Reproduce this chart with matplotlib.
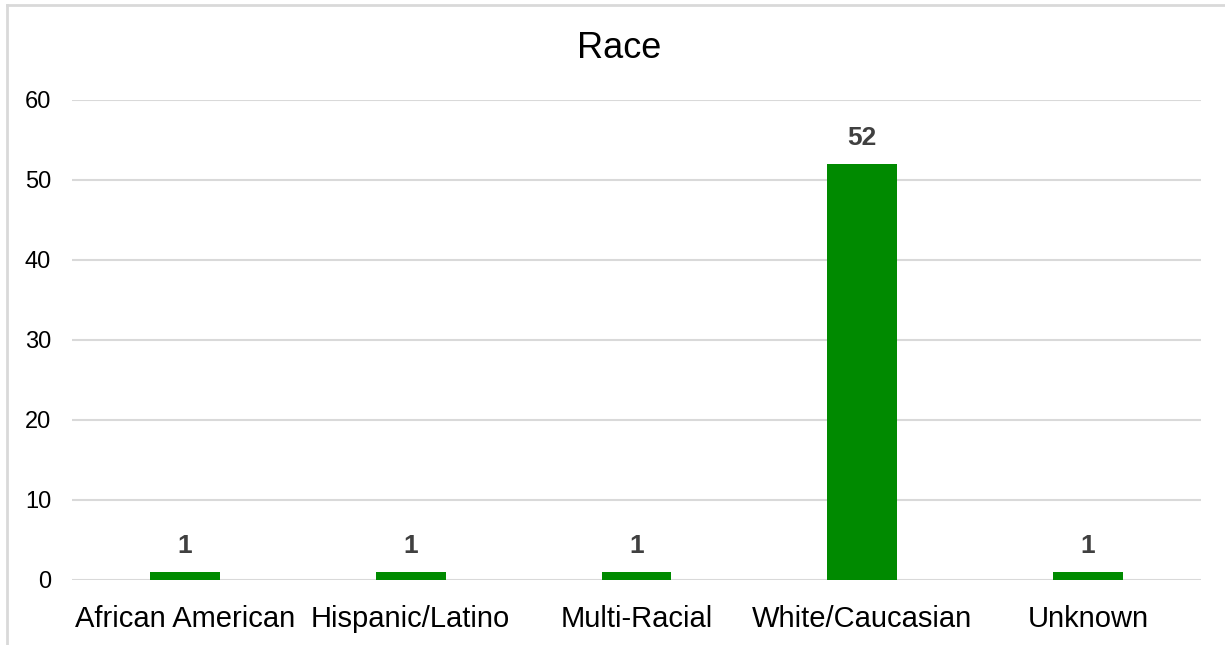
import matplotlib.pyplot as plt
from matplotlib.lines import Line2D

categories = ['African American', 'Hispanic/Latino', 'Multi-Racial', 'White/Caucasian', 'Unknown']
counts = [1, 1, 1, 52, 1]
y_ticks = [0, 10, 20, 30, 40, 50, 60]

plt.rcParams['font.family'] = ['Liberation Sans', 'DejaVu Sans']

fig = plt.figure(figsize=(12.25, 6.45), dpi=100)
ax = fig.add_axes([72/1225, 1 - 580/645, 1129/1225, 480/645])

x = range(len(categories))
bars = ax.bar(x, counts, width=0.31, color='#008A00', zorder=3)

ax.set_xlim(-0.5, len(categories) - 0.5)
ax.set_ylim(0, 60)
ax.set_yticks(y_ticks)
ax.set_xticks(list(x))
ax.set_xticklabels(categories, fontsize=21, color='#000000')
ax.tick_params(axis='y', labelsize=17, length=0, pad=15, colors='#000000')
ax.tick_params(axis='x', length=0, pad=18)

ax.grid(axis='y', color='#D9D9D9', linewidth=1.5, zorder=0)
for s in ax.spines.values():
    s.set_visible(False)

for b, v in zip(bars, counts):
    ax.annotate(str(v), (b.get_x() + b.get_width() / 2, v), xytext=(0, 10),
                textcoords='offset points', ha='center', va='bottom',
                fontsize=19, fontweight='bold', color='#404040')

fig.text(619/1225, 1 - 48/645, 'Race', ha='center', va='center', fontsize=26, color='#000000')

# chart frame (left and top edges visible)
fig.add_artist(Line2D([7/1225, 7/1225], [0, 1 - 5/645], color='#D9D9D9', linewidth=2))
fig.add_artist(Line2D([7/1225, 1], [1 - 5/645, 1 - 5/645], color='#D9D9D9', linewidth=2))

fig.savefig('out.png', dpi=100)
